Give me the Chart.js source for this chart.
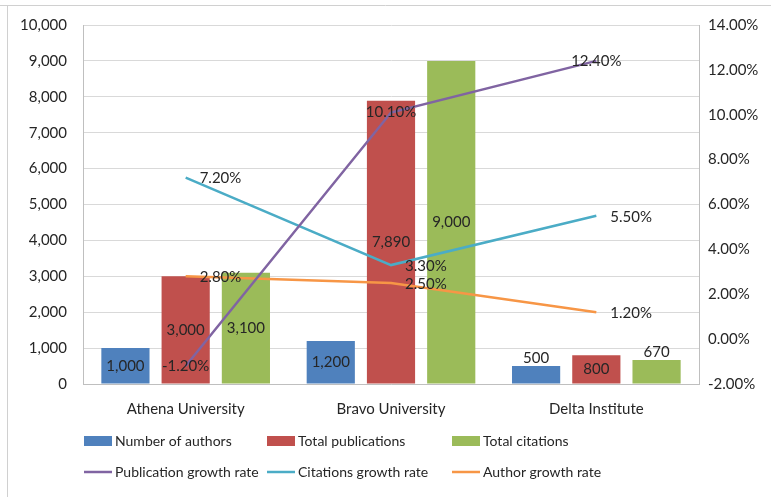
<!DOCTYPE html>
<html lang="en">
<head>
<meta charset="UTF-8">
<title>Authors, publications and citations</title>
<style>
  html, body { margin: 0; padding: 0; background: #fff; }
  .containerCanva { position: relative; width: 771px; height: 497px; }
</style>
</head>
<body>
<div class="containerCanva">
  <canvas id="myChart"></canvas>
</div>
<script src="https://cdn.jsdelivr.net/npm/chart.js@4/dist/chart.umd.min.js"></script>
<script>
const categories = ['Athena University', 'Bravo University', 'Delta Institute'];
const authors = [1000, 1200, 500];
const publications = [3000, 7890, 800];
const citations = [3100, 9000, 670];
const pubGrowth = [-1.2, 10.1, 12.4];
const citGrowth = [7.2, 3.3, 5.5];
const authGrowth = [2.8, 2.5, 1.2];

const FONT = 'Lato, "Open Sans", sans-serif';
const TXT = '#262626';

// value labels like the excel data labels
const labelPlugin = {
  id: 'valueLabels',
  afterDatasetsDraw(chart) {
    const ctx = chart.ctx;
    ctx.save();
    ctx.font = '15px ' + FONT;
    ctx.fillStyle = TXT;
    ctx.textBaseline = 'middle';
    chart.data.datasets.forEach((ds, i) => {
      const meta = chart.getDatasetMeta(i);
      meta.data.forEach((el, j) => {
        const v = ds.data[j];
        if (ds.type === 'bar') {
          const txt = v.toLocaleString('en-US');
          const h = el.base - el.y;
          ctx.textAlign = 'center';
          if (h < 26) ctx.fillText(txt, el.x, el.y - 8);
          else ctx.fillText(txt, el.x, (el.y + el.base) / 2);
        } else {
          const txt = v.toFixed(2) + '%';
          if (ds.labelPos === 'center') {
            ctx.textAlign = 'center';
            ctx.fillText(txt, el.x, el.y);
          } else {
            ctx.textAlign = 'left';
            ctx.fillText(txt, el.x + 14, el.y + 1);
          }
        }
      });
    });
    ctx.restore();
  }
};

// two-row legend laid out in columns, plus the outer frame
const legendPlugin = {
  id: 'colLegend',
  afterDraw(chart) {
    const ctx = chart.ctx;
    ctx.save();
    ctx.strokeStyle = '#d0d0d0';
    ctx.lineWidth = 1;
    ctx.beginPath();
    ctx.moveTo(0, 5.5); ctx.lineTo(771, 5.5);
    ctx.moveTo(7.5, 5); ctx.lineTo(7.5, 497);
    ctx.stroke();

    const cols = [84, 267, 452];
    const rows = [441, 472];
    ctx.font = '14px ' + FONT;
    ctx.textBaseline = 'middle';
    ctx.textAlign = 'left';
    chart.data.datasets.forEach((ds, i) => {
      const c = cols[i % 3], r = rows[Math.floor(i / 3)];
      if (ds.type === 'bar') {
        ctx.fillStyle = ds.backgroundColor;
        ctx.fillRect(c, r - 5, 28, 10);
      } else {
        ctx.strokeStyle = ds.borderColor;
        ctx.lineWidth = 2.5;
        ctx.beginPath();
        ctx.moveTo(c, r); ctx.lineTo(c + 28, r);
        ctx.stroke();
      }
      ctx.fillStyle = TXT;
      ctx.fillText(ds.label, c + 31, r);
    });
    ctx.restore();
  }
};

const ctx = document.getElementById('myChart').getContext('2d');
const myChart = new Chart(ctx, {
  data: {
    labels: categories,
    datasets: [
      { type: 'bar', label: 'Number of authors', data: authors, backgroundColor: '#4F81BD', yAxisID: 'y', order: 2 },
      { type: 'bar', label: 'Total publications', data: publications, backgroundColor: '#C0504D', yAxisID: 'y', order: 2 },
      { type: 'bar', label: 'Total citations', data: citations, backgroundColor: '#9BBB59', yAxisID: 'y', order: 2 },
      { type: 'line', label: 'Publication growth rate', data: pubGrowth, borderColor: '#8064A2', yAxisID: 'y1', labelPos: 'center', order: 1 },
      { type: 'line', label: 'Citations growth rate', data: citGrowth, borderColor: '#4BACC6', yAxisID: 'y1', order: 1 },
      { type: 'line', label: 'Author growth rate', data: authGrowth, borderColor: '#F79646', yAxisID: 'y1', order: 1 }
    ]
  },
  options: {
    responsive: true,
    maintainAspectRatio: false,
    animation: false,
    layout: { padding: { top: 25, left: 0, right: 0, bottom: 0 } },
    datasets: {
      bar: { barPercentage: 0.8, categoryPercentage: 0.88 },
      line: { borderWidth: 2.5, pointRadius: 0, tension: 0, fill: false }
    },
    plugins: {
      legend: { display: false },
      tooltip: { enabled: false }
    },
    scales: {
      x: {
        grid: { display: false, drawTicks: false },
        border: { color: '#bfbfbf' },
        ticks: { color: TXT, font: { family: FONT, size: 15 }, padding: 16 },
        afterFit(s) { s.height = 113; }
      },
      y: {
        position: 'left',
        min: 0, max: 10000,
        ticks: {
          stepSize: 1000, color: TXT, padding: 16,
          font: { family: FONT, size: 15 },
          callback: v => v.toLocaleString('en-US')
        },
        grid: { color: '#d9d9d9', drawTicks: false },
        border: { color: '#bfbfbf' },
        afterFit(s) { s.width = 83; }
      },
      y1: {
        position: 'right',
        min: -2, max: 14,
        ticks: {
          stepSize: 2, color: TXT, padding: 4,
          font: { family: FONT, size: 15 },
          callback: v => v.toFixed(2) + '%'
        },
        grid: { display: false, drawOnChartArea: false, drawTicks: true, tickLength: 5, color: '#bfbfbf' },
        border: { color: '#bfbfbf' },
        afterFit(s) { s.width = 72; }
      }
    }
  },
  plugins: [labelPlugin, legendPlugin]
});
</script>
</body>
</html>
